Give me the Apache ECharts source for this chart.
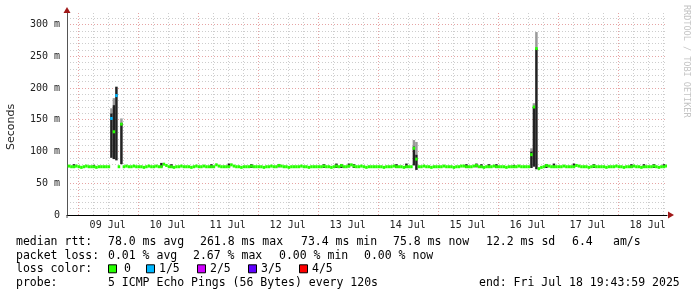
<!DOCTYPE html>
<html><head><meta charset="utf-8">
<script src="https://cdn.jsdelivr.net/npm/echarts@6/dist/echarts.min.js"></script>
<style>html,body{margin:0;padding:0;background:#fff}#c{width:697px;height:297px}</style>
</head><body><div id="c"></div>
<script>
// ---- time frame (hours since 08 Jul 2025 00:00) ----
const START_H = 19.7331;          // 08 Jul 19:43:59
const END_H = START_H + 240;      // 18 Jul 19:43:59
const FIRST_SAMPLE_H = 20;        // one median sample per hour
const Y_MAX = 318;                // ms

// ---- median rtt (ms), hourly, h=20..259 ----
const median = [
  77,76,76,77,
  76,75,76,77,76,76,76,75,76,76,76,76,76,152,131,188,76,143,76,77,76,76,77,76,
  76,76,75,76,77,76,76,77,76,76,80,78,76,76,75,76,76,77,76,76,76,75,76,77,
  76,76,77,76,76,76,76,79,77,76,76,76,76,79,77,76,76,75,76,76,76,77,76,76,
  76,76,75,76,76,77,76,76,78,77,76,76,75,76,76,76,76,77,76,76,75,76,76,76,
  76,76,77,76,76,75,76,77,76,78,76,76,77,79,77,76,76,77,76,75,76,76,76,76,
  76,76,75,76,76,76,77,76,76,76,75,76,76,76,105,88,76,76,77,76,76,75,76,76,
  76,76,77,76,76,76,75,76,76,77,77,76,76,76,77,78,76,76,75,76,76,76,77,76,
  76,76,76,75,76,76,76,76,77,76,76,76,76,95,170,262,73,75,76,78,77,76,76,76,
  76,76,77,76,76,76,76,78,77,76,76,76,75,76,77,76,76,76,76,75,76,76,76,77,
  76,76,75,76,76,76,77,76,76,75,76,76,76,76,77,76,75,76,76,77
];
// ---- packet loss (level out of 5) where not zero ----
const lossHours  = [37, 39];
const lossLevels = [1, 1];

// ---- smoke (ping spread, ms) ----
const smokeHours = [37,38,39,41,158,159,205,206,207,
  22,30,57,61,77,84,93,104,122,127,129,132,134,151,155,179,183,185,188,191,198,211,214,222,230,245,250,254,258];
const smokeLo  = [90,88,86,80,78,71,74,76,72,
  74,74,75,74,74,75,74,75,74,74,74,75,74,74,74,74,75,74,74,74,74,74,74,75,74,74,74,74,75];
const smokeHi  = [160,173,202,145,108,95,100,170,262,
  80,79,82,80,80,81,80,80,80,81,80,81,80,80,81,80,81,80,80,80,79,80,81,81,80,80,80,80,80];
const smokeTop = [168,184,202,152,118,115,105,176,288,
  80,79,82,80,80,81,80,80,80,81,80,81,80,80,81,80,81,80,80,80,79,80,81,81,80,80,80,80,80];

// ---- axis labels ----
const yTickValues = [0,50,100,150,200,250,300];
const yTickLabels = ['0','50 m','100 m','150 m','200 m','250 m','300 m'];
const dayLabels = ['09 Jul','10 Jul','11 Jul','12 Jul','13 Jul','14 Jul','15 Jul','16 Jul','17 Jul','18 Jul'];
const yTitle = 'Seconds';
const watermark = 'RRDTOOL / TOBI OETIKER';

// ---- legend texts ----
const lossColors = ['#26ff00','#00b8ff','#d000ff','#6000ff','#ff0000'];
const lossNames  = ['0','1/5','2/5','3/5','4/5'];
const rttTitle = 'median rtt:';
const rttStats = ['78.0 ms avg','261.8 ms max','73.4 ms min','75.8 ms now','12.2 ms sd','6.4','am/s'];
const lossTitle = 'packet loss:';
const lossStats = ['0.01 % avg','2.67 % max','0.00 % min','0.00 % now'];
const colorTitle = 'loss color:';
const probeTitle = 'probe:';
const probeText = '5 ICMP Echo Pings (56 Bytes) every 120s';
const endText = 'end: Fri Jul 18 19:43:59 2025';

// ---- layout ----
const MONO = '"DejaVu Sans Mono", monospace';
const SANS = '"DejaVu Sans", sans-serif';
const GRID_GRAY = '#cdcdcd', GRID_RED = '#e6a4a4', ARROW = '#a01818';
const TXT_X0 = 16, TXT_X1 = 108;
const lineY = [241.7, 255.7, 269.3, 283.3];
const rttX = [108,200,301,393,486,572,613];
const lossX = [108,193,279,364];
const boxX = [108,146,197,248,299];
const boxTextX = [124,159,210,261,312];
const endX = 479;

const gridHours = []; for (let h = 24; h < END_H; h += 6) gridHours.push(h);
const labelHours = []; for (let h = 36; h < END_H; h += 24) labelHours.push(h);

const medianData = median.map((v, i) => {
  const h = FIRST_SAMPLE_H + i;
  const k = lossHours.indexOf(h);
  return [h, v, k >= 0 ? lossLevels[k] : 0];
});
const smokeData = smokeHours.map((h, i) => [h, smokeLo[i], smokeHi[i], smokeTop[i]]);
const vGridData = gridHours.map(h => [h, h % 24 === 0 ? 1 : 0]);

const chart = echarts.init(document.getElementById('c'), null, {renderer: 'canvas'});
const yColors = [GRID_RED, GRID_GRAY, GRID_GRAY, GRID_GRAY, GRID_GRAY];

chart.setOption({
  animation: false,
  grid: {left: 67, right: 30, top: 13, bottom: 82},
  xAxis: {
    type: 'value', min: START_H, max: END_H,
    axisLine: {show: true, onZero: false, lineStyle: {color: '#000', width: 1}},
    axisTick: {show: false},
    axisLabel: {customValues: labelHours, formatter: v => dayLabels[Math.round((v - 36) / 24)] || '',
      fontFamily: MONO, fontSize: 10, color: '#222', margin: 5},
    splitLine: {show: false}
  },
  yAxis: {
    type: 'value', min: 0, max: Y_MAX, interval: 10,
    axisLine: {show: true, lineStyle: {color: '#555', width: 1}},
    axisTick: {show: false},
    axisLabel: {formatter: v => { const k = yTickValues.indexOf(v); return k >= 0 ? yTickLabels[k] : ''; },
      fontFamily: MONO, fontSize: 10, color: '#222', margin: 7},
    splitLine: {show: true, showMaxLine: false, lineStyle: {color: yColors, type: [1, 2], width: 1}}
  },
  series: [
    {
      type: 'custom', clip: true, data: vGridData, z: 1, silent: true,
      renderItem: (params, api) => {
        const h = api.value(0), major = api.value(1);
        const a = api.coord([h, 0]), b = api.coord([h, Y_MAX]);
        const x = Math.round(a[0]) + 0.5;
        return {type: 'line', shape: {x1: x, y1: a[1], x2: x, y2: b[1]},
          style: {stroke: major ? GRID_RED : GRID_GRAY, lineWidth: 1, lineDash: [1, 2]}};
      }
    },
    {
      type: 'custom', clip: true, data: smokeData, z: 2,
      renderItem: (params, api) => {
        const h = api.value(0), lo = api.value(1), hi = api.value(2), top = api.value(3);
        const a = api.coord([h, lo]), b = api.coord([h + 1, hi]), c = api.coord([h, top]);
        const w = b[0] - a[0];
        return {type: 'group', children: [
          {type: 'rect', shape: {x: a[0], y: c[1], width: w, height: b[1] - c[1]}, style: {fill: '#9a9a9a'}},
          {type: 'rect', shape: {x: a[0], y: b[1], width: w, height: a[1] - b[1]}, style: {fill: '#222'}}
        ]};
      }
    },
    {
      type: 'custom', clip: true, data: medianData, z: 3,
      renderItem: (params, api) => {
        const h = api.value(0), v = api.value(1), lvl = api.value(2);
        const a = api.coord([h, v]), b = api.coord([h + 1, v]);
        return {type: 'rect', shape: {x: a[0], y: a[1] - 1.5, width: b[0] - a[0], height: 3},
          style: {fill: lossColors[lvl]}};
      }
    }
  ]
});

// ---- decorations & legend text ----
const o = chart.convertToPixel({gridIndex: 0}, [START_H, 0]);
const t = chart.convertToPixel({gridIndex: 0}, [START_H, Y_MAX]);
const r = chart.convertToPixel({gridIndex: 0}, [END_H, 0]);
const g = [];
g.push({type: 'polygon', shape: {points: [[o[0] - 3.5, t[1]], [o[0] + 3.5, t[1]], [o[0], t[1] - 6]]}, style: {fill: ARROW}, z: 100});
g.push({type: 'polygon', shape: {points: [[r[0] + 1, o[1] - 3.5], [r[0] + 1, o[1] + 3.5], [r[0] + 7, o[1]]]}, style: {fill: ARROW}, z: 100});
g.push({type: 'line', shape: {x1: o[0], y1: o[1], x2: o[0], y2: o[1] + 3}, style: {stroke: '#555', lineWidth: 1}, z: 100});
g.push({type: 'text', x: 11, y: (o[1] + t[1]) / 2 + 13, rotation: Math.PI / 2,
  style: {text: yTitle, font: '11px ' + SANS, fill: '#222', align: 'center', verticalAlign: 'middle'}});
g.push({type: 'text', x: 686, y: 5, rotation: -Math.PI / 2,
  style: {text: watermark, font: '8.5px ' + MONO, fill: '#c4c4c4', align: 'left', verticalAlign: 'middle'}});

function txt(x, y, s) {
  g.push({type: 'text', x: x, y: y, style: {text: s, font: '11.5px ' + MONO, fill: '#000', align: 'left', verticalAlign: 'middle'}});
}
txt(TXT_X0, lineY[0], rttTitle);
rttStats.forEach((s, i) => txt(rttX[i], lineY[0], s));
txt(TXT_X0, lineY[1], lossTitle);
lossStats.forEach((s, i) => txt(lossX[i], lineY[1], s));
txt(TXT_X0, lineY[2], colorTitle);
lossNames.forEach((s, i) => {
  g.push({type: 'rect', shape: {x: boxX[i] + 0.5, y: lineY[2] - 4.5, width: 8, height: 8},
    style: {fill: lossColors[i], stroke: '#000', lineWidth: 1}});
  txt(boxTextX[i], lineY[2], s);
});
txt(TXT_X0, lineY[3], probeTitle);
txt(TXT_X1, lineY[3], probeText);
txt(endX, lineY[3], endText);

chart.setOption({graphic: g});
</script>
</body></html>
